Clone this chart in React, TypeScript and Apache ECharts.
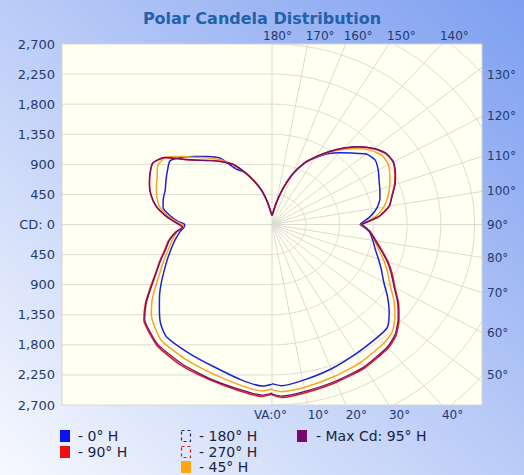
import React, { useEffect, useRef } from "react";
import * as echarts from "echarts";

// Vertical angles (degrees from nadir) at which candela values were read
const ANGLES = [0, 3, 10, 20, 30, 40, 45, 50, 55, 60, 65, 70, 75, 80, 85, 88, 90, 92, 95, 100, 105, 110, 115, 120, 125, 130, 135, 140, 145, 150, 155, 160, 165, 170, 175, 180];

// 0° H (right) / 180° H (left) - blue
const H0 = [2380, 2415, 2368, 2300, 2235, 2195, 2175, 2040, 1880, 1720, 1610, 1510, 1425, 1365, 1305, 1230, 1175, 1220, 1310, 1420, 1490, 1530, 1575, 1635, 1680, 1640, 1510, 1400, 1290, 1150, 1005, 800, 545, 330, 190, 135];
const H180 = [2385, 2420, 2360, 2265, 2220, 2190, 2100, 1960, 1830, 1700, 1580, 1480, 1390, 1310, 1230, 1175, 1165, 1250, 1350, 1475, 1500, 1515, 1560, 1610, 1660, 1565, 1440, 1330, 1215, 960, 860, 690, 520, 330, 190, 135];
// 90° H (right) / 270° H (left) - red
const H90 = [2550, 2590, 2555, 2510, 2475, 2410, 2340, 2210, 2060, 1893, 1770, 1650, 1520, 1410, 1320, 1250, 1200, 1290, 1440, 1590, 1655, 1740, 1810, 1865, 1850, 1765, 1640, 1490, 1330, 1165, 1010, 800, 545, 330, 190, 135];
const H270 = [2540, 2575, 2525, 2465, 2430, 2375, 2305, 2230, 2060, 1870, 1710, 1590, 1480, 1400, 1290, 1195, 1240, 1310, 1420, 1570, 1670, 1740, 1795, 1835, 1745, 1510, 1360, 1250, 1150, 1040, 865, 690, 520, 330, 190, 135];
// 45° H - orange (right half / left half)
const H45_R = [2470, 2505, 2475, 2420, 2375, 2320, 2270, 2140, 1985, 1820, 1700, 1590, 1475, 1390, 1315, 1240, 1190, 1265, 1390, 1515, 1600, 1670, 1735, 1790, 1795, 1725, 1610, 1470, 1320, 1162, 1008, 800, 545, 330, 190, 135];
const H45_L = [2460, 2495, 2440, 2365, 2320, 2280, 2200, 2100, 1950, 1780, 1640, 1530, 1430, 1350, 1270, 1190, 1195, 1275, 1385, 1520, 1590, 1640, 1690, 1760, 1740, 1580, 1420, 1300, 1180, 1030, 865, 690, 520, 330, 190, 135];
// Max Cd: 95° H - purple (right half / left half)
const MAX_R = [2535, 2570, 2535, 2492, 2455, 2392, 2322, 2195, 2045, 1880, 1755, 1635, 1507, 1398, 1310, 1242, 1195, 1285, 1435, 1585, 1660, 1748, 1818, 1872, 1858, 1772, 1648, 1495, 1335, 1168, 1012, 802, 546, 331, 190, 135];
const MAX_L = [2520, 2555, 2505, 2450, 2405, 2355, 2290, 2215, 2045, 1855, 1700, 1580, 1470, 1390, 1280, 1190, 1235, 1305, 1415, 1565, 1665, 1738, 1795, 1838, 1750, 1515, 1355, 1245, 1140, 1035, 862, 690, 520, 330, 190, 135];

// Axis label angles
const TOP_ANGLES = [180, 170, 160, 150, 140];
const RIGHT_ANGLES = [130, 120, 110, 100, 90, 80, 70, 60, 50];
const BOTTOM_ANGLES = [0, 10, 20, 30, 40];

const CD_MAX = 2700;
const CD_STEP = 450;
const X_MAX = 2800;

const LABEL_COLOR = "#1f3a6e";
const FONT = "DejaVu Sans";

function toXY(right: number[], left: number[]) {
  const pts: number[][] = [];
  ANGLES.forEach((a, i) => {
    const t = (a * Math.PI) / 180;
    pts.push([right[i] * Math.sin(t), -right[i] * Math.cos(t)]);
  });
  for (let i = ANGLES.length - 1; i >= 0; i--) {
    const t = (ANGLES[i] * Math.PI) / 180;
    pts.push([-left[i] * Math.sin(t), -left[i] * Math.cos(t)]);
  }
  pts.push(pts[0]);
  return pts;
}

function gridShapes() {
  const shapes: number[][][] = [];
  for (let y = -CD_MAX + CD_STEP; y <= CD_MAX - CD_STEP; y += CD_STEP) {
    shapes.push([[-X_MAX, y], [0, y]]);
  }
  for (let a = 0; a <= 180; a += 10) {
    const t = (a * Math.PI) / 180;
    const s = Math.sin(t);
    const c = Math.cos(t);
    let L = Infinity;
    if (s > 1e-9) L = Math.min(L, X_MAX / s);
    if (Math.abs(c) > 1e-9) L = Math.min(L, CD_MAX / Math.abs(c));
    shapes.push([[0, 0], [L * s, -L * c]]);
  }
  for (let r = CD_STEP; r <= 3600; r += CD_STEP) {
    let seg: number[][] = [];
    for (let a = 0; a <= 180; a += 0.5) {
      const t = (a * Math.PI) / 180;
      const x = r * Math.sin(t);
      const y = -r * Math.cos(t);
      if (x <= X_MAX + 1 && Math.abs(y) <= CD_MAX + 1) seg.push([x, y]);
      else {
        if (seg.length > 1) shapes.push(seg);
        seg = [];
      }
    }
    if (seg.length > 1) shapes.push(seg);
  }
  return shapes;
}

export default function App() {
  const ref = useRef<HTMLDivElement>(null);
  useEffect(() => {
    if (!ref.current) return;
    const chart = echarts.init(ref.current, undefined, { renderer: "svg" });
    const shapes = gridShapes();
    const lineSeries = (name: string, data: number[][], color: string, width: number, z: number) => ({
      type: "line",
      name,
      data,
      showSymbol: false,
      symbol: "none",
      smooth: 0.2,
      silent: true,
      z,
      lineStyle: { color, width },
    });
    chart.setOption({
      animation: false,
      backgroundColor: new echarts.graphic.LinearGradient(0, 1, 1, 0, [
        { offset: 0, color: "#f7f9fe" },
        { offset: 1, color: "#7e9ff0" },
      ]),
      title: {
        text: "Polar Candela Distribution",
        left: "center",
        top: 5,
        textStyle: { fontSize: 16, fontWeight: "bold", color: "#2461a8", fontFamily: FONT },
      },
      grid: {
        left: 62,
        right: 42,
        top: 44,
        bottom: 70,
        show: true,
        backgroundColor: "#fffff2",
        borderColor: "#d6d6cc",
        borderWidth: 1,
      },
      xAxis: { type: "value", min: -X_MAX, max: X_MAX, show: false },
      yAxis: {
        type: "value",
        min: -CD_MAX,
        max: CD_MAX,
        interval: CD_STEP,
        axisLine: { show: false },
        axisTick: { show: false },
        splitLine: { show: false },
        axisLabel: {
          color: LABEL_COLOR,
          fontSize: 13,
          fontFamily: FONT,
          margin: 7,
          formatter: (v: number) => (v === 0 ? "CD: 0" : Math.abs(v).toLocaleString("en-US")),
        },
      },
      series: [
        {
          type: "custom",
          coordinateSystem: "cartesian2d",
          silent: true,
          clip: true,
          z: 1,
          data: shapes.map(() => [0, 0]),
          renderItem: (params: any, api: any) => ({
            type: "polyline",
            shape: { points: shapes[params.dataIndex].map((p) => api.coord(p)) },
            style: { stroke: "#dbdbd2", lineWidth: 1, fill: "none" },
          }),
        },
        lineSeries("0° H / 180° H", toXY(H0, H180), "#1a22d8", 1.5, 3),
        lineSeries("45° H", toXY(H45_R, H45_L), "#f5a623", 1.5, 4),
        lineSeries("90° H / 270° H", toXY(H90, H270), "#e0182a", 1.6, 5),
        lineSeries("Max Cd: 95° H", toXY(MAX_R, MAX_L), "#6a1070", 1.2, 6),
      ],
    });

    const px = (x: number, y: number) => chart.convertToPixel({ gridIndex: 0 }, [x, y]) as number[];
    const topY = px(0, CD_MAX)[1];
    const botY = px(0, -CD_MAX)[1];
    const rightX = px(X_MAX, 0)[0];
    const angleText = (text: string, x: number, y: number, align: string) => ({
      type: "text",
      x,
      y,
      silent: true,
      style: { text, fill: LABEL_COLOR, font: `12px "${FONT}"`, textAlign: align, textVerticalAlign: "middle" },
    });
    const graphics: any[] = [];
    TOP_ANGLES.forEach((a) => {
      const t = ((180 - a) * Math.PI) / 180;
      const x = px(CD_MAX * Math.tan(t), CD_MAX)[0];
      graphics.push(angleText(`${a}°`, a === 180 ? x - 9 : x - 2, topY - 8, "left"));
    });
    RIGHT_ANGLES.forEach((a) => {
      const t = (a * Math.PI) / 180;
      let y = px(X_MAX, (-X_MAX * Math.cos(t)) / Math.sin(t))[1];
      y = Math.max(topY + 31, Math.min(botY - 30, y));
      graphics.push(angleText(`${a}°`, rightX + 5, y, "left"));
    });
    BOTTOM_ANGLES.forEach((a) => {
      const t = (a * Math.PI) / 180;
      const x = px(CD_MAX * Math.tan(t), -CD_MAX)[0];
      if (a === 0) graphics.push(angleText("VA:0°", x + 15, botY + 10, "right"));
      else graphics.push(angleText(`${a}°`, x, botY + 10, "left"));
    });

    const legendFont = `14px "${FONT}"`;
    const legendText = (text: string, x: number, y: number) => ({
      type: "text",
      x,
      y,
      silent: true,
      style: { text, fill: "#1c2240", font: legendFont, textVerticalAlign: "middle" },
    });
    const box = (x: number, y: number, fill: string) => ({
      type: "rect",
      shape: { x, y: y - 6, width: 10, height: 12 },
      style: { fill },
      silent: true,
    });
    const dashBox = (x: number, y: number, stroke: string) => ({
      type: "rect",
      shape: { x: x + 0.5, y: y - 5.5, width: 9, height: 11 },
      style: { fill: "none", stroke, lineWidth: 1.2, lineDash: [3, 3] },
      silent: true,
    });
    const r1 = 436, r2 = 452, r3 = 467;
    graphics.push(
      box(60, r1, "#0a14f0"), legendText("- 0° H", 78, r1),
      dashBox(181, r1, "#1a2a8a"), legendText("- 180° H", 199, r1),
      box(297, r1, "#760a6e"), legendText("- Max Cd: 95° H", 316, r1),
      box(60, r2, "#ee1010"), legendText("- 90° H", 78, r2),
      dashBox(181, r2, "#d02020"), legendText("- 270° H", 199, r2),
      box(181, r3, "#ffa510"), legendText("- 45° H", 199, r3)
    );
    chart.setOption({ graphic: graphics });

    return () => chart.dispose();
  }, []);
  return <div ref={ref} style={{ position: "fixed", left: 0, top: 0, width: 524, height: 475 }} />;
}
